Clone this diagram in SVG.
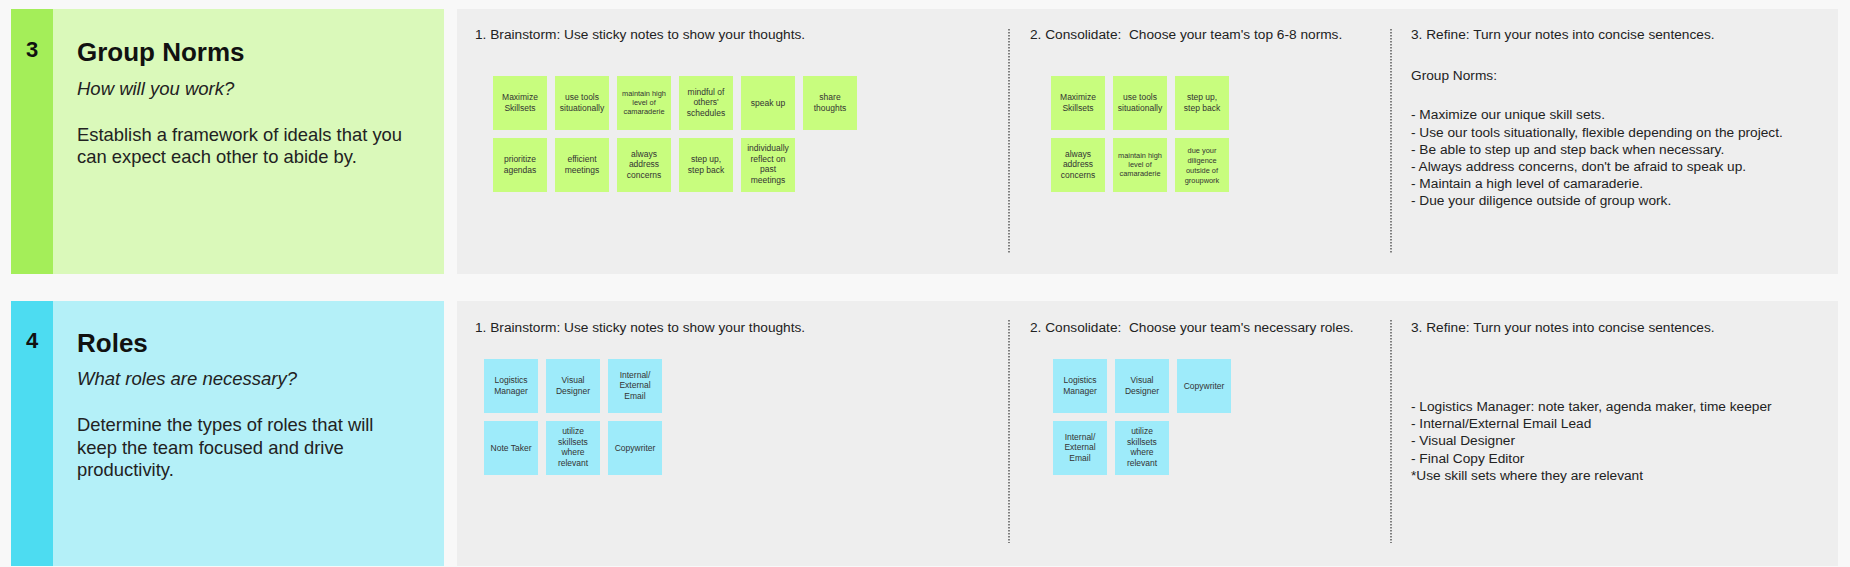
<svg xmlns="http://www.w3.org/2000/svg" width="1850" height="567" viewBox="0 0 1850 567">
<style>
text{font-family:"Liberation Sans",Arial,sans-serif;}
.num{font-size:22px;font-weight:bold;fill:#111;text-anchor:middle;}
.title{font-size:26px;font-weight:bold;fill:#111;}
.q{font-size:18.5px;font-style:italic;fill:#222;}
.body{font-size:18.4px;fill:#222;}
.hd{font-size:13.7px;fill:#222;}
.st{font-size:8.5px;fill:#333;text-anchor:middle;}
.sts{font-size:7.4px;fill:#333;text-anchor:middle;}
.g{fill:#c8fd7e;}
.b{fill:#9eebfa;}
.div{stroke:#444;stroke-width:1.3;stroke-dasharray:1.5 1.5;fill:none;}
</style>
<rect width="1850" height="567" fill="#f8f8f8"/>

<!-- Row 1: Group Norms -->
<g id="norms-intro">
<rect x="11" y="9" width="433" height="265" fill="#daf9ba"/>
<rect x="11" y="9" width="42" height="265" fill="#a4ee59"/>
<text class="num" x="32" y="57">3</text>
<text class="title" x="77" y="61">Group Norms</text>
<text class="q" x="77" y="95">How will you work?</text>
<text class="body" x="77" y="141">Establish a framework of ideals that you</text>
<text class="body" x="77" y="163">can expect each other to abide by.</text>
</g>
<g id="norms-work">
<rect x="457" y="9" width="1381" height="265" fill="#eeeeee"/>
<text class="hd" x="475" y="39">1. Brainstorm: Use sticky notes to show your thoughts.</text>
<text class="hd" x="1030" y="39" xml:space="preserve">2. Consolidate:  Choose your team's top 6-8 norms.</text>
<text class="hd" x="1411" y="39">3. Refine: Turn your notes into concise sentences.</text>
<text class="hd" x="1411" y="80">Group Norms:</text>
<text class="hd" x="1411" y="119.3">- Maximize our unique skill sets.</text>
<text class="hd" x="1411" y="136.5">- Use our tools situationally, flexible depending on the project.</text>
<text class="hd" x="1411" y="153.7">- Be able to step up and step back when necessary.</text>
<text class="hd" x="1411" y="170.9">- Always address concerns, don't be afraid to speak up.</text>
<text class="hd" x="1411" y="188.1">- Maintain a high level of camaraderie.</text>
<text class="hd" x="1411" y="205.3">- Due your diligence outside of group work.</text>
</g>
<g id="norms-brainstorm-notes">
<rect class="g" x="493" y="76" width="54" height="54"/>
<text class="st" x="520" y="100.4">Maximize</text><text class="st" x="520" y="111.1">Skillsets</text>
<rect class="g" x="555" y="76" width="54" height="54"/>
<text class="st" x="582" y="100.4">use tools</text><text class="st" x="582" y="111.1">situationally</text>
<rect class="g" x="617" y="76" width="54" height="54"/>
<text class="sts" x="644" y="95.7">maintain high</text><text class="sts" x="644" y="105">level of</text><text class="sts" x="644" y="114.3">camaraderie</text>
<rect class="g" x="679" y="76" width="54" height="54"/>
<text class="st" x="706" y="94.6">mindful of</text><text class="st" x="706" y="105.3">others'</text><text class="st" x="706" y="116">schedules</text>
<rect class="g" x="741" y="76" width="54" height="54"/>
<text class="st" x="768" y="105.7">speak up</text>
<rect class="g" x="803" y="76" width="54" height="54"/>
<text class="st" x="830" y="100.4">share</text><text class="st" x="830" y="111.1">thoughts</text>
<rect class="g" x="493" y="138" width="54" height="54"/>
<text class="st" x="520" y="162.4">prioritize</text><text class="st" x="520" y="173.1">agendas</text>
<rect class="g" x="555" y="138" width="54" height="54"/>
<text class="st" x="582" y="162.4">efficient</text><text class="st" x="582" y="173.1">meetings</text>
<rect class="g" x="617" y="138" width="54" height="54"/>
<text class="st" x="644" y="156.6">always</text><text class="st" x="644" y="167.3">address</text><text class="st" x="644" y="178">concerns</text>
<rect class="g" x="679" y="138" width="54" height="54"/>
<text class="st" x="706" y="162.4">step up,</text><text class="st" x="706" y="173.1">step back</text>
<rect class="g" x="741" y="138" width="54" height="54"/>
<text class="st" x="768" y="151">individually</text><text class="st" x="768" y="161.7">reflect on</text><text class="st" x="768" y="172.4">past</text><text class="st" x="768" y="183.1">meetings</text>
</g>
<g id="norms-consolidate-notes">
<rect class="g" x="1051" y="76" width="54" height="54"/>
<text class="st" x="1078" y="100.4">Maximize</text><text class="st" x="1078" y="111.1">Skillsets</text>
<rect class="g" x="1113" y="76" width="54" height="54"/>
<text class="st" x="1140" y="100.4">use tools</text><text class="st" x="1140" y="111.1">situationally</text>
<rect class="g" x="1175" y="76" width="54" height="54"/>
<text class="st" x="1202" y="100.4">step up,</text><text class="st" x="1202" y="111.1">step back</text>
<rect class="g" x="1051" y="138" width="54" height="54"/>
<text class="st" x="1078" y="156.6">always</text><text class="st" x="1078" y="167.3">address</text><text class="st" x="1078" y="178">concerns</text>
<rect class="g" x="1113" y="138" width="54" height="54"/>
<text class="sts" x="1140" y="157.7">maintain high</text><text class="sts" x="1140" y="167">level of</text><text class="sts" x="1140" y="176.3">camaraderie</text>
<rect class="g" x="1175" y="138" width="54" height="54"/>
<text class="sts" x="1202" y="152.5">due your</text><text class="sts" x="1202" y="162.5">diligence</text><text class="sts" x="1202" y="172.5">outside of</text><text class="sts" x="1202" y="182.5">groupwork</text>
</g>

<!-- Row 2: Roles -->
<g id="roles-intro">
<rect x="11" y="301" width="433" height="265" fill="#b4f0f8"/>
<rect x="11" y="301" width="42" height="265" fill="#4ddcf1"/>
<text class="num" x="32" y="348">4</text>
<text class="title" x="77" y="352">Roles</text>
<text class="q" x="77" y="385">What roles are necessary?</text>
<text class="body" x="77" y="431">Determine the types of roles that will</text>
<text class="body" x="77" y="453.5">keep the team focused and drive</text>
<text class="body" x="77" y="476">productivity.</text>
</g>
<g id="roles-work">
<rect x="457" y="301" width="1381" height="265" fill="#eeeeee"/>
<text class="hd" x="475" y="331.5">1. Brainstorm: Use sticky notes to show your thoughts.</text>
<text class="hd" x="1030" y="331.5" xml:space="preserve">2. Consolidate:  Choose your team's necessary roles.</text>
<text class="hd" x="1411" y="331.5">3. Refine: Turn your notes into concise sentences.</text>
<text class="hd" x="1411" y="411">- Logistics Manager: note taker, agenda maker, time keeper</text>
<text class="hd" x="1411" y="428.2">- Internal/External Email Lead</text>
<text class="hd" x="1411" y="445.4">- Visual Designer</text>
<text class="hd" x="1411" y="462.6">- Final Copy Editor</text>
<text class="hd" x="1411" y="479.8">*Use skill sets where they are relevant</text>
</g>
<g id="roles-brainstorm-notes">
<rect class="b" x="484" y="359" width="54" height="54"/>
<text class="st" x="511" y="383.4">Logistics</text><text class="st" x="511" y="394.1">Manager</text>
<rect class="b" x="546" y="359" width="54" height="54"/>
<text class="st" x="573" y="383.4">Visual</text><text class="st" x="573" y="394.1">Designer</text>
<rect class="b" x="608" y="359" width="54" height="54"/>
<text class="st" x="635" y="377.6">Internal/</text><text class="st" x="635" y="388.3">External</text><text class="st" x="635" y="399">Email</text>
<rect class="b" x="484" y="421" width="54" height="54"/>
<text class="st" x="511" y="450.7">Note Taker</text>
<rect class="b" x="546" y="421" width="54" height="54"/>
<text class="st" x="573" y="434">utilize</text><text class="st" x="573" y="444.7">skillsets</text><text class="st" x="573" y="455.4">where</text><text class="st" x="573" y="466.1">relevant</text>
<rect class="b" x="608" y="421" width="54" height="54"/>
<text class="st" x="635" y="450.7">Copywriter</text>
</g>
<g id="roles-consolidate-notes">
<rect class="b" x="1053" y="359" width="54" height="54"/>
<text class="st" x="1080" y="383.4">Logistics</text><text class="st" x="1080" y="394.1">Manager</text>
<rect class="b" x="1115" y="359" width="54" height="54"/>
<text class="st" x="1142" y="383.4">Visual</text><text class="st" x="1142" y="394.1">Designer</text>
<rect class="b" x="1177" y="359" width="54" height="54"/>
<text class="st" x="1204" y="388.7">Copywriter</text>
<rect class="b" x="1053" y="421" width="54" height="54"/>
<text class="st" x="1080" y="439.6">Internal/</text><text class="st" x="1080" y="450.3">External</text><text class="st" x="1080" y="461">Email</text>
<rect class="b" x="1115" y="421" width="54" height="54"/>
<text class="st" x="1142" y="434">utilize</text><text class="st" x="1142" y="444.7">skillsets</text><text class="st" x="1142" y="455.4">where</text><text class="st" x="1142" y="466.1">relevant</text>
</g>

<g id="connectors">
<line class="div" x1="1009" y1="29" x2="1009" y2="253"/>
<line class="div" x1="1391" y1="29" x2="1391" y2="253"/>
<line class="div" x1="1009" y1="320" x2="1009" y2="543"/>
<line class="div" x1="1391" y1="320" x2="1391" y2="543"/>
</g>
</svg>
